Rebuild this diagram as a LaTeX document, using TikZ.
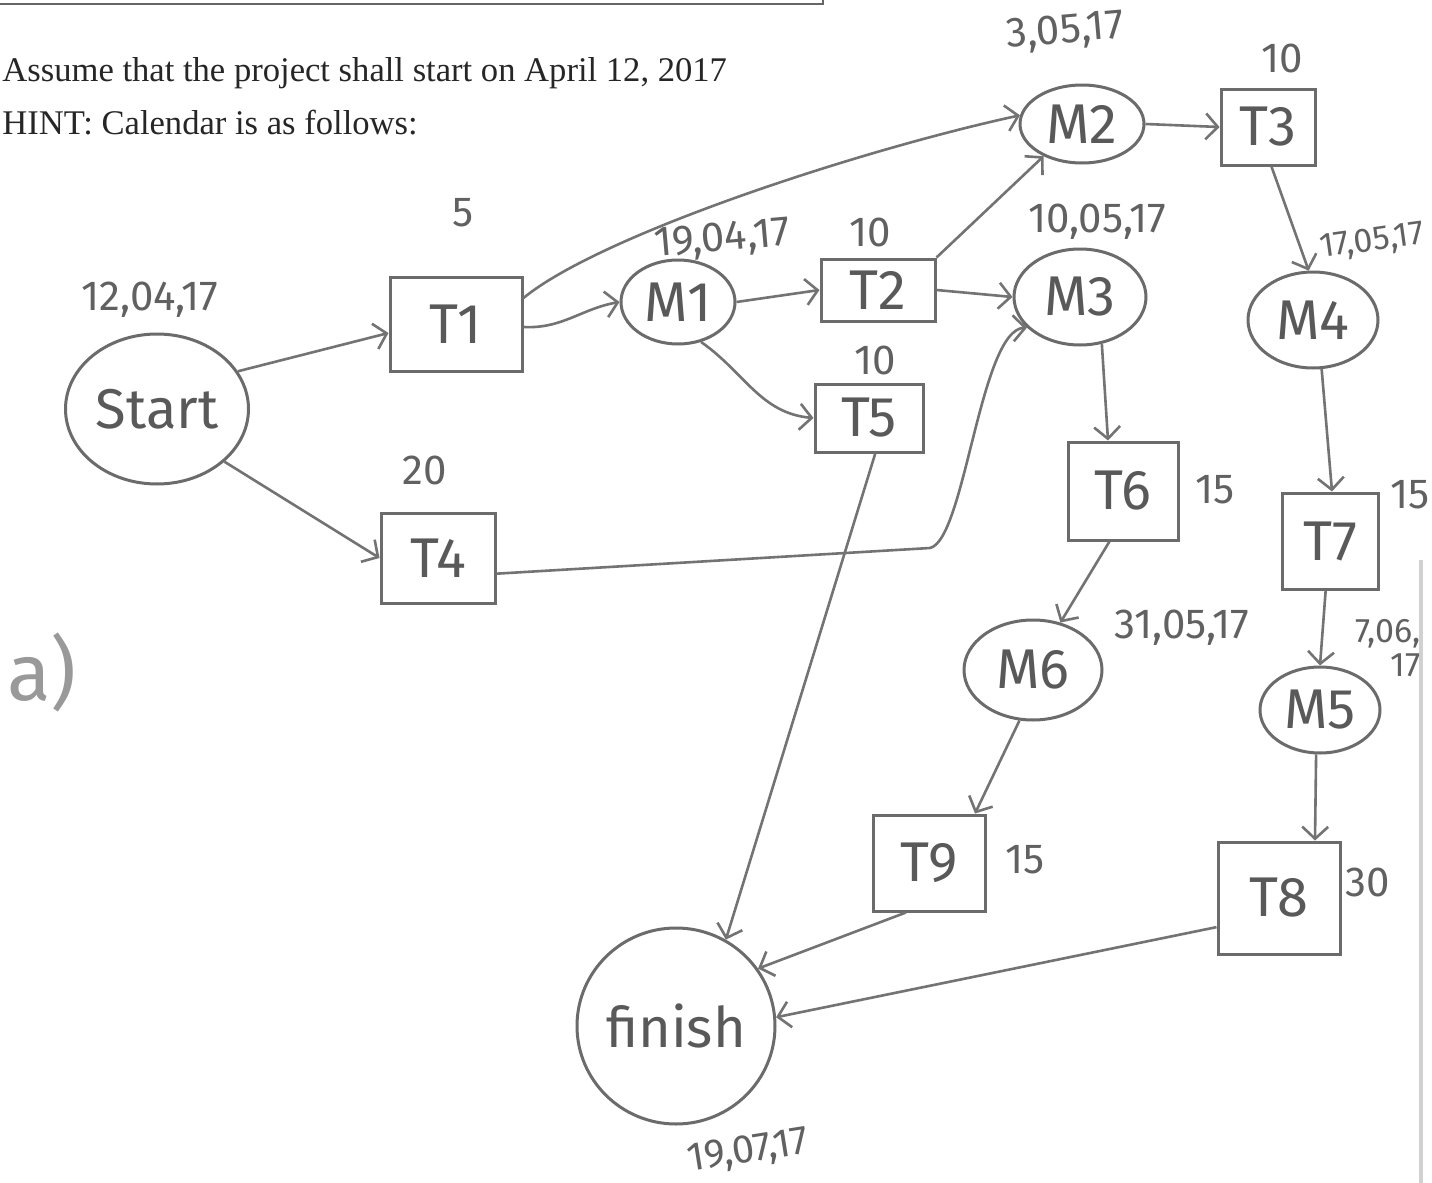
\documentclass[tikz,border=0pt]{standalone}
\usepackage{fontspec}
\setmainfont{Liberation Serif}
\newfontfamily\hand{Fira Sans}
\usetikzlibrary{arrows.meta,shapes.geometric}
\begin{document}
\begin{tikzpicture}[x=0.5pt,y=-0.5pt,
  pencil/.style={draw=black!58, line width=1.5pt},
  evt/.style={pencil, ellipse, inner sep=0pt, font=\hand\fontsize{28}{28}\selectfont, text=black!65},
  task/.style={pencil, rectangle, inner sep=0pt, font=\hand\fontsize{28}{28}\selectfont, text=black!65},
  arr/.style={draw=black!55, line width=1.3pt, -{Straight Barb[length=6pt,width=13pt,line width=1.3pt]}},
  note/.style={font=\hand\fontsize{21}{21}\selectfont, text=black!62, inner sep=0pt},
  printed/.style={font=\fontsize{17.3}{20}\selectfont, text=black!85, anchor=west, inner sep=0pt}]

% page
\fill[white] (0,0) rectangle (1432,1183);
\useasboundingbox (0,0) rectangle (1432,1183);

% frame edge at the top and page shadow on the right
\draw[black!60, line width=0.8pt] (0,4) -- (823,4) -- (823,0);
\draw[black!18, line width=1.6pt] (1421,560) -- (1421,1183);

% printed text
\node[printed] (l1) at (2,73) {Assume that the project shall start on April 12, 2017};
\node[printed] (l2) at (2,123) {HINT: Calendar is as follows:};

% events
\node[evt, minimum width=91.5pt, minimum height=75pt] (start) at (157,409) {Start};
\node[evt, minimum width=57pt,  minimum height=42pt] (m1) at (678,302) {M1};
\node[evt, minimum width=62pt,  minimum height=39pt] (m2) at (1082,124) {M2};
\node[evt, minimum width=66pt,  minimum height=48pt] (m3) at (1080,297) {M3};
\node[evt, minimum width=65pt,  minimum height=48pt] (m4) at (1313,320) {M4};
\node[evt, minimum width=69pt,  minimum height=50pt] (m6) at (1033,670) {M6};
\node[evt, minimum width=60pt,  minimum height=43pt] (m5) at (1320,710) {M5};
\node[evt, minimum width=99pt,  minimum height=98pt] (fin) at (676,1026) {finish};

% tasks
\node[task, minimum width=66pt, minimum height=47pt] (t1) at (456,324) {T1};
\node[task, minimum width=57pt, minimum height=45pt] (t4) at (438,558) {T4};
\node[task, minimum width=57pt, minimum height=31pt] (t2) at (878,290) {T2};
\node[task, minimum width=54pt, minimum height=34pt] (t5) at (869,418) {T5};
\node[task, minimum width=47pt, minimum height=38pt] (t3) at (1268,127) {T3};
\node[task, minimum width=55pt, minimum height=49pt] (t6) at (1123,491) {T6};
\node[task, minimum width=48pt, minimum height=48pt] (t7) at (1330,541) {T7};
\node[task, minimum width=56pt, minimum height=48pt] (t9) at (929,863) {T9};
\node[task, minimum width=61pt, minimum height=56pt] (t8) at (1279,898) {T8};

% dates and durations
\node[note] (d0) at (150,300) {12,04,17};
\node[note] (d1) at (463,213) {5};
\node[note] (d4) at (425,470) {20};
\node[note, rotate=5] (dm1) at (722,240) {19,04,17};
\node[note] (d2) at (870,232) {10};
\node[note] (d5) at (875,360) {10};
\node[note, rotate=5] (dm2) at (1065,32) {3,05,17};
\node[note] (d3) at (1282,58) {10};
\node[note] (dm3) at (1097,222) {10,05,17};
\node[note, rotate=8, font=\hand\fontsize{17}{17}\selectfont] (dm4) at (1372,242) {17,05,17};
\node[note] (d6) at (1215,490) {15};
\node[note] (d7) at (1410,495) {15};
\node[note] (dm6) at (1182,628) {31,05,17};
\node[note, align=right, font=\hand\fontsize{17}{17}\selectfont] (dm5) at (1388,648) {7,06,\\17};
\node[note] (d9) at (1025,860) {15};
\node[note] (d8) at (1368,882) {30};
\node[note, rotate=9, font=\hand\fontsize{20}{20}\selectfont] (dfin) at (748,1152) {19,07,17};
\node[font=\hand\fontsize{40}{40}\selectfont, text=black!40, inner sep=0pt] (qa) at (42,672) {a)};

% connectors
\draw[arr] (start.25) -- (t1.west |- 0,333);
\draw[arr] (start.-38) -- (t4.west);
\draw[arr] (t1.east |- 0,327) to[out=-3,in=190] (m1.west);
\draw[arr] (t1.east |- 0,298) .. controls (600,235) and (860,150) .. (m2.172);
\draw[arr] (m1.east) -- (t2.west);
\draw[arr] (m1.-60) to[out=-35,in=175] (t5.west);
\draw[arr] (t2.north east) -- (m2.220);
\draw[arr] (t2.east) -- (m3.west);
\draw[arr] (t4.-15) -- (930,548) .. controls (965,540) and (980,330) .. (m3.210);
\draw[arr] (t5.-80) -- (fin.60);
\draw[arr] (m2.east) -- (t3.west);
\draw[arr] (t3.-85) -- (m4.95);
\draw[arr] (m3.-65) -- (t6.north -| 1108,0);
\draw[arr] (m4.-80) -- (t7.north -| 1332,0);
\draw[arr] (t6.-105) -- (m6.60);
\draw[arr] (t7.-95) -- (m5.90);
\draw[arr] (m6.-105) -- (t9.north -| 975,0);
\draw[arr] (m5.-95) -- (t8.north -| 1315,0);
\draw[arr] (t9.-115) -- (fin.35);
\draw[arr] (t8.-155) -- (fin.5);
\end{tikzpicture}
\end{document}
